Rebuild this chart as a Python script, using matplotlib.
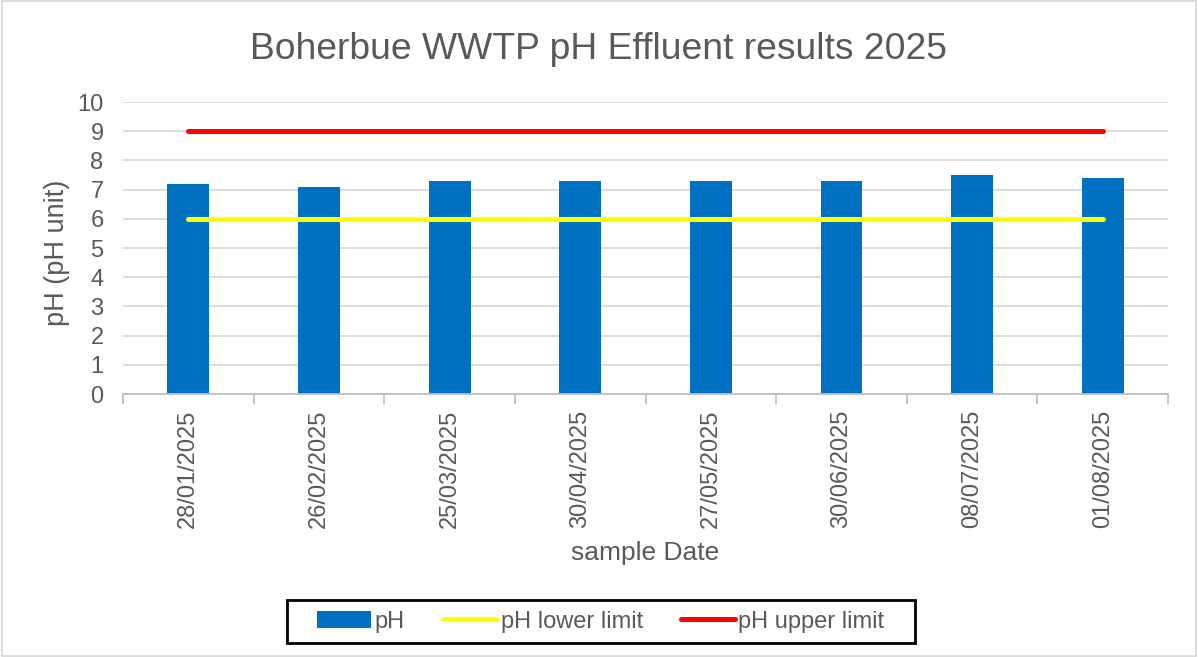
import matplotlib
matplotlib.use("Agg")
import matplotlib.pyplot as plt
from matplotlib.patches import Rectangle
import numpy as np

plt.rcParams['font.family'] = ['Liberation Sans', 'DejaVu Sans']

dates = ["28/01/2025", "26/02/2025", "25/03/2025", "30/04/2025",
         "27/05/2025", "30/06/2025", "08/07/2025", "01/08/2025"]
ph = [7.2, 7.1, 7.3, 7.3, 7.3, 7.3, 7.5, 7.4]
lower = [6] * 8
upper = [9] * 8

txt = '#595959'
fig = plt.figure(figsize=(11.98, 6.57), dpi=100)
ax = fig.add_axes([0.1027, 0.4003, 0.8723, 0.4444])
x = np.arange(len(dates))

b = ax.bar(x, ph, width=0.32, color='#0070C0', label='pH', zorder=2)
l1, = ax.plot(x, lower, color='#FFFF00', lw=3.6, solid_capstyle='round', label='pH lower limit', zorder=3)
l2, = ax.plot(x, upper, color='#FF0000', lw=3.6, solid_capstyle='round', label='pH upper limit', zorder=3)

ax.set_xlim(-0.5, len(dates) - 0.5)
ax.set_ylim(0, 10)
ax.set_yticks(range(0, 11))
ax.yaxis.grid(True, color='#D9D9D9', lw=1.3)
ax.set_axisbelow(True)
for s in ['top', 'right', 'left']:
    ax.spines[s].set_visible(False)
ax.spines['bottom'].set_color('#BFBFBF')
ax.spines['bottom'].set_linewidth(1.3)

ax.set_xticks(x)
ax.set_xticklabels(dates, rotation=90, fontsize=17, color=txt)
ax.tick_params(axis='x', length=0, pad=11)
ax.set_xticks(np.arange(-0.5, len(dates)), minor=True)
ax.tick_params(axis='x', which='minor', length=7, color='#BFBFBF', width=1.3)
ax.tick_params(axis='y', length=0, labelsize=17, labelcolor=txt, pad=14)

ax.set_ylabel('pH (pH unit)', fontsize=19.5, color=txt, va='center')
ax.yaxis.set_label_coords(-0.063, 0.483)
ax.set_xlabel('sample Date', fontsize=19, color=txt, va='center')
ax.xaxis.set_label_coords(0.5, -0.545)
fig.text(0.5, 0.925, 'Boherbue WWTP pH Effluent results 2025', ha='center', va='center',
         fontsize=26.8, color=txt)

# legend without its own frame; the wider black box is drawn separately
leg = fig.legend([b, l1, l2], ['pH', 'pH lower limit', 'pH upper limit'],
                 loc='center', bbox_to_anchor=(0.5015, 0.054), ncol=3, fontsize=17,
                 frameon=False, handlelength=2.3, handletextpad=0.15,
                 columnspacing=1.6, borderpad=0.4, borderaxespad=0)
for t in leg.get_texts():
    t.set_color(txt)
fig.patches.append(Rectangle((287 / 1198, (657 - 643) / 657), 628 / 1198, 43 / 657,
                             transform=fig.transFigure, fill=False, edgecolor='black', lw=2))

fig.patches.append(Rectangle((0.002, 0.002), 0.996, 0.996, transform=fig.transFigure,
                             fill=False, edgecolor='#D9D9D9', lw=1.3))

fig.savefig('out.png', dpi=100)
